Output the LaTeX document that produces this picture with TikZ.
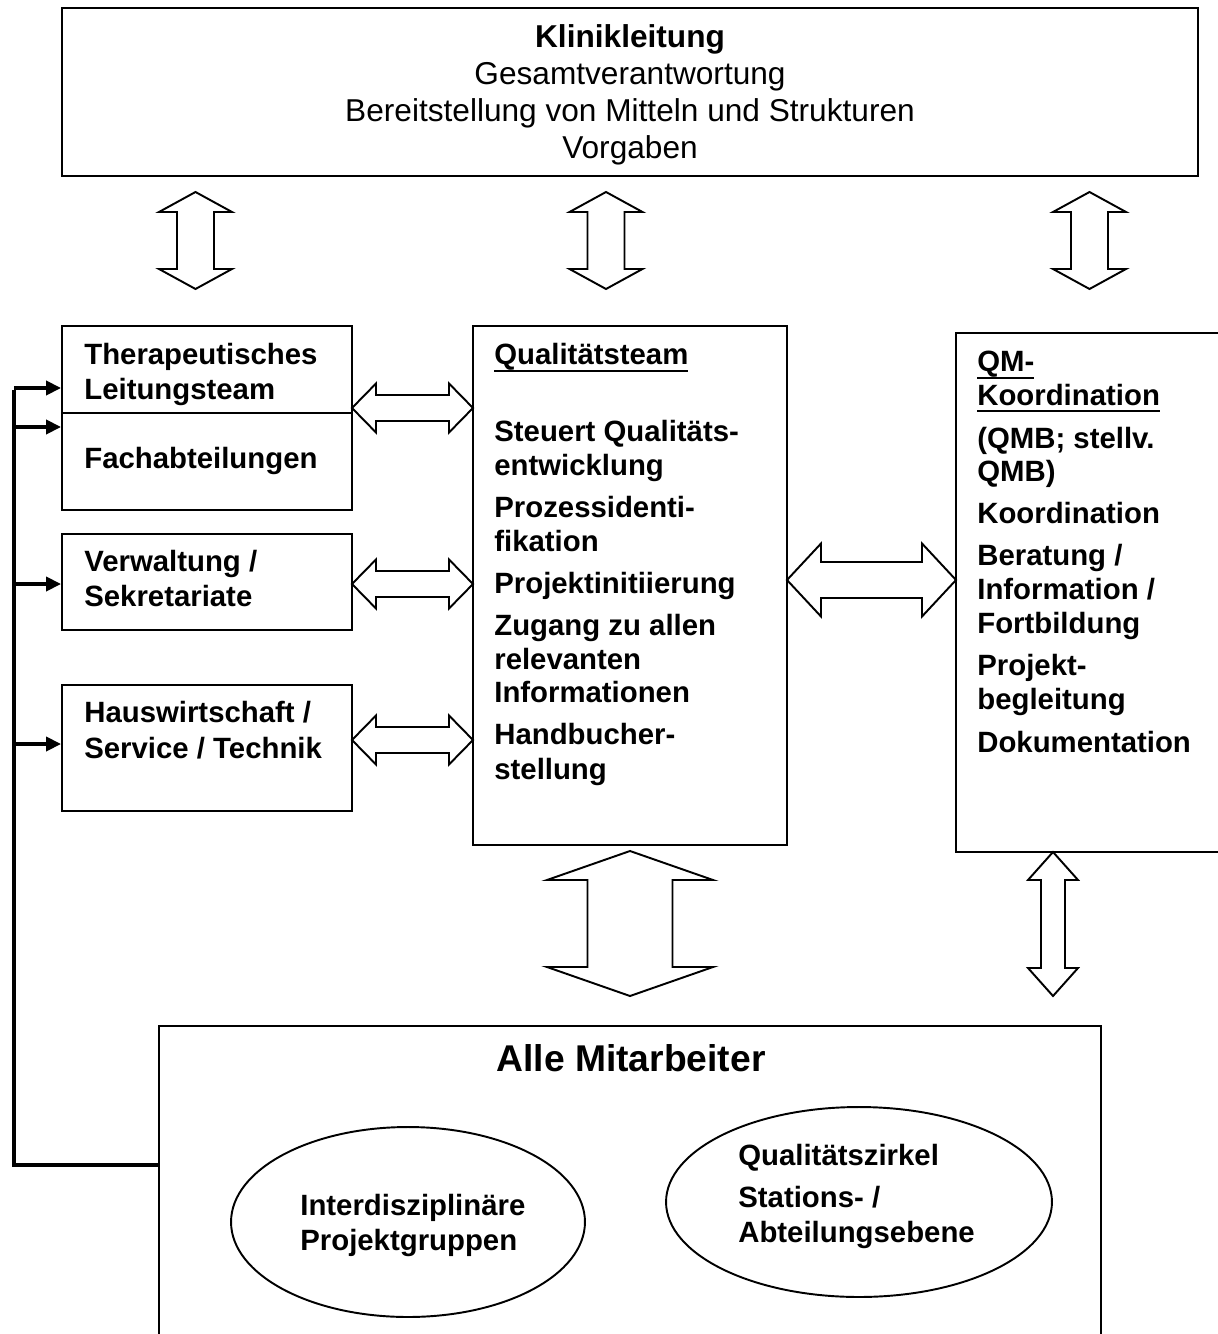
\documentclass[tikz,border=0pt]{standalone}
\usepackage{fontspec}
\setmainfont{Liberation Sans}
\usetikzlibrary{fit,arrows.meta,shapes.geometric}
\tikzset{
  box/.style={draw, line width=1.1pt, inner sep=0pt, rectangle},
  blockarrow/.style={draw, line width=1.1pt, fill=white, line join=miter},
  lbl/.style={anchor=base west, inner sep=0pt, font=\fontsize{16.7}{20}\selectfont\bfseries},
  ktxt/.style={anchor=base, inner sep=0pt, font=\fontsize{18}{21}\selectfont},
  fbline/.style={line width=2pt},
  fbarrow/.style={line width=2pt, -{Triangle[length=8.5pt,width=8pt]}},
  oval/.style={draw, ellipse, line width=1.1pt, inner sep=0pt}
}
\newcommand\myul[1]{\leavevmode\setbox0\hbox{#1}\rlap{\rule[-4.2pt]{\wd0}{1.5pt}}\box0}
\newcommand\blockV[6]{% cx, y1, y2, H, S, L
\draw[blockarrow] (#1,#2) -- ({#1+#4},{#2+#6}) -- ({#1+#5},{#2+#6}) -- ({#1+#5},{#3-#6}) -- ({#1+#4},{#3-#6}) -- (#1,#3) -- ({#1-#4},{#3-#6}) -- ({#1-#5},{#3-#6}) -- ({#1-#5},{#2+#6}) -- ({#1-#4},{#2+#6}) -- cycle;}
\newcommand\blockH[6]{% cy, x1, x2, H, S, L
\draw[blockarrow] (#2,#1) -- ({#2+#6},{#1-#4}) -- ({#2+#6},{#1-#5}) -- ({#3-#6},{#1-#5}) -- ({#3-#6},{#1-#4}) -- (#3,#1) -- ({#3-#6},{#1+#4}) -- ({#3-#6},{#1+#5}) -- ({#2+#6},{#1+#5}) -- ({#2+#6},{#1+#4}) -- cycle;}
\begin{document}
\begin{tikzpicture}[x=0.02cm, y=-0.02cm]
\useasboundingbox (0,0) rectangle (1217,1334);
% boxes
\node[box, fit={(62,8) (1198,176)}] (klinik) {};
\node[box, fit={(62,326) (352,510)}] (ther) {};
\node[box, fit={(62,534) (352,630)}] (verw) {};
\node[box, fit={(62,685) (352,811)}] (haus) {};
\node[box, fit={(473,326) (787,845)}] (qteam) {};
\node[box, fit={(956,333) (1228,852)}] (qm) {};
\node[box, fit={(159,1026) (1101,1345)}] (alle) {};
\draw[line width=1.1pt] (ther.west |- 0,413) -- (ther.east |- 0,413);
% ellipses
\node[oval, minimum width=7.08cm, minimum height=3.8cm] (proj) at (408,1222) {};
\node[oval, minimum width=7.72cm, minimum height=3.8cm] (zirkel) at (859,1202) {};
% Klinikleitung text
\node[ktxt, font=\fontsize{18}{21}\selectfont\bfseries] (k1) at (630,48) {Klinikleitung};
\node[ktxt] (k2) at (630,85) {Gesamtverantwortung};
\node[ktxt] (k3) at (630,122) {Bereitstellung von Mitteln und Strukturen};
\node[ktxt] (k4) at (630,159) {Vorgaben};
\node[ktxt, font=\fontsize{21.2}{25}\selectfont\bfseries] (alletitle) at (631,1071) {Alle Mitarbeiter};
% other texts
\foreach \x/\y/\t [count=\i] in {
  84/365/Therapeutisches, 84/399/Leitungsteam, 84/468/Fachabteilungen,
  84/571/{Verwaltung /}, 84/606/Sekretariate,
  84/722/{Hauswirtschaft /}, 84/758/{Service / Technik},
  494/365/{\myul{Qualitätsteam}},
  494/441/{Steuert Qualitäts-}, 494/475/entwicklung,
  494/517/{Prozessidenti-}, 494/551/fikation,
  494/593/Projektinitiierung,
  494/635/{Zugang zu allen}, 494/669/relevanten, 494/702/Informationen,
  494/744/{Handbucher-}, 494/779/stellung,
  977/372/{\myul{QM-}}, 977/405/{\myul{Koordination}},
  977/448/{(QMB; stellv.}, 977/481/{QMB)},
  977/523/Koordination,
  977/565/{Beratung /}, 977/599/{Information /}, 977/633/Fortbildung,
  977/675/{Projekt-}, 977/709/begleitung,
  977/752/Dokumentation,
  300/1215/Interdisziplinäre, 300/1250/Projektgruppen,
  738/1165/Qualitätszirkel, 738/1207/{Stations- /}, 738/1242/Abteilungsebene}
  \node[lbl] (t\i) at (\x,\y) {\t};
% block arrows
\blockV{195.5}{192}{289}{36.5}{18.5}{20}
\blockV{606}{192}{289}{36.5}{18.5}{20}
\blockV{1089.5}{192}{289}{36.5}{18.5}{20}
\blockH{408}{352}{473}{24.5}{13}{24}
\blockH{584}{352}{473}{24.5}{13}{24}
\blockH{740}{352}{473}{24.5}{13}{24}
\blockH{580}{787}{956}{36.5}{18}{34}
\blockV{630}{851}{996}{83}{42.5}{29}
\blockV{1053}{852}{996}{25}{12}{28}
% feedback line
\coordinate (fbc) at (14,1165);
\coordinate (f1) at (14,388);
\coordinate (f2) at (14,427);
\coordinate (f3) at (14,584);
\coordinate (f4) at (14,744);
\draw[fbline] (alle.west |- fbc) -- (fbc) -- ([yshift=-1pt]f1);
\draw[fbarrow] (f1) -- (f1 -| ther.west);
\draw[fbarrow] (f2) -- (f2 -| ther.west);
\draw[fbarrow] (f3) -- (f3 -| verw.west);
\draw[fbarrow] (f4) -- (f4 -| haus.west);
\end{tikzpicture}
\end{document}
